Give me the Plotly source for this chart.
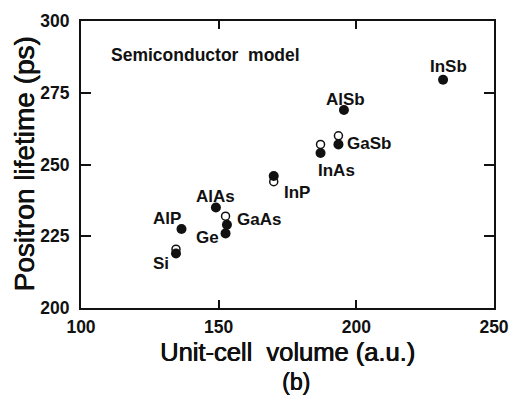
import plotly.graph_objects as go

# Positron lifetime vs. unit-cell volume, semiconductor model
# Filled circles: experimental lifetimes
exp_compound = ["Si", "AlP", "AlAs", "Ge", "GaAs", "InP", "InAs", "GaSb", "AlSb", "InSb"]
exp_volume = [134.5, 136.5, 149.0, 152.5, 153.0, 170.0, 187.0, 193.5, 195.5, 231.5]
exp_lifetime = [219.0, 227.5, 235.0, 226.0, 229.0, 246.0, 254.0, 257.0, 269.0, 279.5]

# Open circles: calculated lifetimes
calc_compound = ["Si", "GaAs", "InP", "InAs", "GaSb"]
calc_volume = [134.5, 152.5, 170.0, 187.0, 193.5]
calc_lifetime = [220.5, 232.0, 244.0, 257.0, 260.0]

# Compound label positions (centre of each label, in data units)
label_text = ["InSb", "AlSb", "GaSb", "InAs", "InP", "AlAs", "GaAs", "AlP", "Ge", "Si"]
label_x = [233.6, 196.2, 204.7, 192.9, 178.6, 148.7, 164.5, 131.3, 146.1, 128.9]
label_y = [284.8, 273.4, 257.9, 248.5, 241.1, 239.7, 231.6, 231.9, 225.4, 216.2]

x_ticks = [100, 150, 200, 250]
y_ticks = [200, 225, 250, 275, 300]

INK = "#111111"
FONT = "Liberation Sans, Arial, sans-serif"
# slight smear to give the regular-weight titles a heavier pen stroke
HEAVY = "0.6px 0 0 #111111, 0 0.4px 0 #111111"

fig = go.Figure()

fig.add_trace(go.Scatter(
    x=calc_volume, y=calc_lifetime, mode="markers",
    marker=dict(symbol="circle", size=8, color="white",
                line=dict(color=INK, width=1.5)),
    hoverinfo="skip", showlegend=False,
))
fig.add_trace(go.Scatter(
    x=exp_volume, y=exp_lifetime, mode="markers",
    marker=dict(symbol="circle", size=10, color=INK, line=dict(width=0)),
    hoverinfo="skip", showlegend=False,
))

annotations = []
for t, lx, ly in zip(label_text, label_x, label_y):
    annotations.append(dict(
        x=lx, y=ly, xref="x", yref="y", text=t, showarrow=False,
        xanchor="center", yanchor="middle", yshift=-2,
        font=dict(family=FONT, size=17, color=INK, weight="bold"),
    ))

annotations += [
    dict(x=0.0689, y=0.882, xref="paper", yref="paper",
         text="Semiconductor\u00a0 model", showarrow=False,
         xanchor="left", yanchor="middle",
         font=dict(family=FONT, size=17.5, color=INK, weight="bold")),
    dict(x=0.5, y=-0.153, xref="paper", yref="paper",
         text="Unit-cell\u00a0 volume (a.u.)", showarrow=False,
         xanchor="center", yanchor="middle", borderpad=0,
         font=dict(family=FONT, size=25.5, color=INK, shadow=HEAVY)),
    dict(x=0.52, y=-0.259, xref="paper", yref="paper",
         text="(b)", showarrow=False,
         xanchor="center", yanchor="middle", borderpad=0,
         font=dict(family=FONT, size=23, color=INK, shadow=HEAVY)),
    dict(x=-0.138, y=0.5, xref="paper", yref="paper",
         text="Positron lifetime (ps)", showarrow=False, textangle=-90,
         xanchor="center", yanchor="middle",
         font=dict(family=FONT, size=28, color=INK, shadow=HEAVY)),
]

axis_common = dict(
    showline=True, linewidth=2, linecolor=INK, mirror="ticks",
    ticks="inside", tickwidth=1.5, tickcolor=INK,
    showgrid=False, zeroline=False,
    tickfont=dict(family=FONT, size=17.5, color=INK, weight="bold"),
)

fig.update_layout(
    width=520, height=400,
    margin=dict(l=81, r=18, t=11, b=92),
    paper_bgcolor="white", plot_bgcolor="white",
    xaxis=dict(range=[100, 250], tickvals=x_ticks, ticklen=8,
               ticklabelstandoff=2, **axis_common),
    yaxis=dict(range=[200, 300], tickvals=y_ticks, ticklen=10,
               ticklabelstandoff=6, **axis_common),
    annotations=annotations,
    showlegend=False,
)

fig.write_html("out.html")
